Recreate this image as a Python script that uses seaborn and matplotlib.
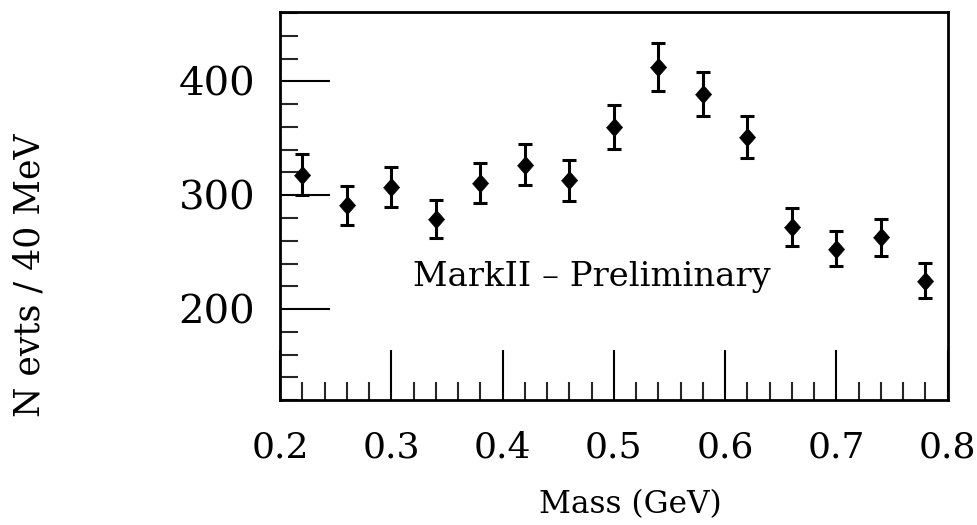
import matplotlib
matplotlib.use("Agg")
import matplotlib.pyplot as plt
import seaborn as sns
import pandas as pd
from matplotlib.ticker import MultipleLocator, FixedLocator

# Data (Mark II preliminary mass spectrum)
mass = [0.22, 0.26, 0.30, 0.34, 0.38, 0.42, 0.46, 0.50, 0.54, 0.58, 0.62, 0.66, 0.70, 0.74, 0.78]
events = [318, 291, 307, 279, 311, 327, 313, 360, 413, 389, 351, 272, 253, 263, 225]
errors = [18, 17, 17.5, 17, 17.5, 18, 18, 19.5, 21, 19.5, 18.5, 16.5, 15.5, 16.5, 15.5]
x_ticks = [0.2, 0.3, 0.4, 0.5, 0.6, 0.7, 0.8]
x_tick_labels = ["0.2", "0.3", "0.4", "0.5", "0.6", "0.7", "0.8"]
y_ticks = [200, 300, 400]
y_tick_labels = ["200", "300", "400"]

df = pd.DataFrame({"Mass": mass, "N": events, "err": errors})

sns.set_theme(style="ticks")
plt.rcParams["font.family"] = ["DejaVu Serif"]
plt.rcParams["text.color"] = "black"
plt.rcParams["axes.labelcolor"] = "black"

fig = plt.figure(figsize=(9.77, 5.25), dpi=100)
ax = fig.add_axes([0.2866, 0.238, 0.6834, 0.739])

ax.errorbar(df["Mass"], df["N"], yerr=df["err"], fmt="none", ecolor="black",
            elinewidth=2.2, capsize=4.7, capthick=2.2, zorder=2)
diamond = [(0, 1), (0.88, 0), (0, -1), (-0.88, 0)]
sns.scatterplot(data=df, x="Mass", y="N", ax=ax, marker=diamond, s=175,
                color="black", edgecolor="black", linewidth=0.5, zorder=3, legend=False)

ax.set_xlim(0.2, 0.8)
ax.set_ylim(120, 461)

ax.xaxis.set_major_locator(FixedLocator(x_ticks))
ax.set_xticklabels(x_tick_labels)
ax.xaxis.set_minor_locator(MultipleLocator(0.02))
ax.yaxis.set_major_locator(FixedLocator(y_ticks))
ax.set_yticklabels(y_tick_labels)
ax.yaxis.set_minor_locator(MultipleLocator(20))

ax.tick_params(axis="both", which="major", direction="in", length=36, width=1.5,
               colors="black", labelcolor="black", top=False, right=False)
ax.tick_params(axis="both", which="minor", direction="in", length=13, width=1.5,
               top=False, right=False)
ax.tick_params(axis="x", which="major", pad=22, labelsize=26)
ax.tick_params(axis="y", which="major", pad=18, labelsize=29)

for sp in ax.spines.values():
    sp.set_visible(True)
    sp.set_linewidth(2.0)
    sp.set_color("black")

ax.set_xlabel("")
ax.set_ylabel("")
fig.text(630 / 977, 1 - 505 / 525, "Mass (GeV)", fontsize=22.5,
         ha="center", va="center", color="black")
fig.text(30 / 977, 1 - 275 / 525, "N evts / 40 MeV", fontsize=25, rotation=90,
         ha="center", va="center", color="black")

ax.text(0.48, 228, "MarkII \u2013 Preliminary", fontsize=24.4, ha="center", va="center",
        color="black")

fig.savefig("out.png", dpi=100, facecolor="white")
